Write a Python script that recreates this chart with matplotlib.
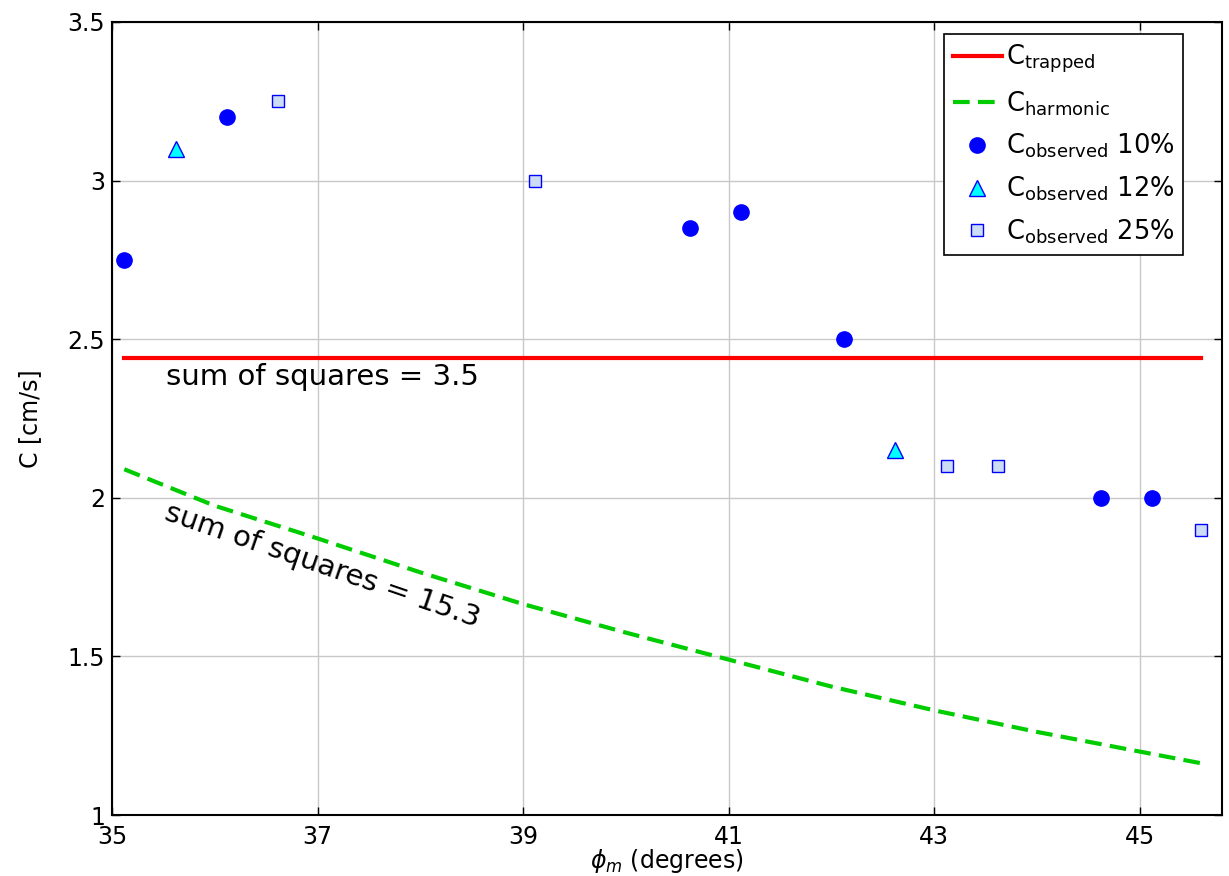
import matplotlib
matplotlib.use("Agg")
import matplotlib.pyplot as plt
from matplotlib.ticker import FuncFormatter

# ---- data ----
obs10_x = [35.12, 36.12, 40.62, 41.12, 42.12, 44.62, 45.12]
obs10_y = [2.75, 3.2, 2.85, 2.9, 2.5, 2.0, 2.0]
obs12_x = [35.62, 42.62]
obs12_y = [3.1, 2.15]
obs25_x = [36.62, 39.12, 43.12, 43.62, 45.6]
obs25_y = [3.25, 3.0, 2.1, 2.1, 1.9]

trapped_x = [35.12, 45.6]
trapped_y = [2.44, 2.44]

harmonic_x = [35.12, 36.0, 37.0, 38.0, 39.0, 40.0, 41.0, 42.0, 43.0, 44.0, 45.0, 45.6]
harmonic_y = [2.09, 1.975, 1.872, 1.765, 1.665, 1.575, 1.49, 1.405, 1.33, 1.262, 1.20, 1.163]

xticks = [35, 37, 39, 41, 43, 45]
yticks = [1, 1.5, 2, 2.5, 3, 3.5]

fig = plt.figure(figsize=(12.29, 8.76), dpi=100)
ax = fig.add_axes([0.0911, 0.0696, 0.9032, 0.9053])

ax.plot(trapped_x, trapped_y, color='#ff0000', lw=3,
        label=r'C$_{\mathregular{trapped}}$', zorder=3)
ax.plot(harmonic_x, harmonic_y, color='#00cc00', lw=3, ls=(0, (4, 2)),
        label=r'C$_{\mathregular{harmonic}}$', zorder=3)
ax.plot(obs10_x, obs10_y, ls='none', marker='o', ms=11, mfc='#0000ff',
        mec='#0000ff', label=r'C$_{\mathregular{observed}}$ 10%', zorder=4)
ax.plot(obs12_x, obs12_y, ls='none', marker='^', ms=11, mfc='#00ffff',
        mec='#0000ff', mew=1, label=r'C$_{\mathregular{observed}}$ 12%', zorder=4)
ax.plot(obs25_x, obs25_y, ls='none', marker='s', ms=9, mfc='#ccdcf5',
        mec='#0000ff', mew=1, label=r'C$_{\mathregular{observed}}$ 25%', zorder=4)

ax.text(35.53, 2.355, 'sum of squares = 3.5', fontsize=21, ha='left',
        va='baseline', color='black')
ax.text(37.05, 1.785, 'sum of squares = 15.3', fontsize=21, ha='center',
        va='center', rotation=-19, rotation_mode='anchor', color='black')

ax.set_xlim(35, 45.8)
ax.set_ylim(1, 3.5)
ax.set_xticks(xticks)
ax.set_yticks(yticks)
ax.yaxis.set_major_formatter(FuncFormatter(lambda v, p: '%g' % v))
ax.xaxis.set_major_formatter(FuncFormatter(lambda v, p: '%g' % v))
ax.grid(True, color='#c8c8c8', lw=1, ls='-')
ax.set_axisbelow(True)
ax.tick_params(direction='in', length=6, width=1, top=True, right=True,
               labelsize=17, pad=5)
ax.tick_params(axis='x', pad=7)
for s in ax.spines.values():
    s.set_linewidth(1.5)
    s.set_color('black')

ax.set_ylabel('C [cm/s]', fontsize=17, labelpad=18)
ax.set_xlabel(r'$\phi_m$ (degrees)', fontsize=17, labelpad=-1)

leg = ax.legend(loc='upper right', bbox_to_anchor=(0.965, 0.985), fontsize=18.5,
                frameon=True, fancybox=False, framealpha=1, edgecolor='black',
                handlelength=1.9, labelspacing=0.55, borderpad=0.35,
                handletextpad=0.15, borderaxespad=0)
leg.get_frame().set_linewidth(1.2)

fig.savefig('out.png', dpi=100)
